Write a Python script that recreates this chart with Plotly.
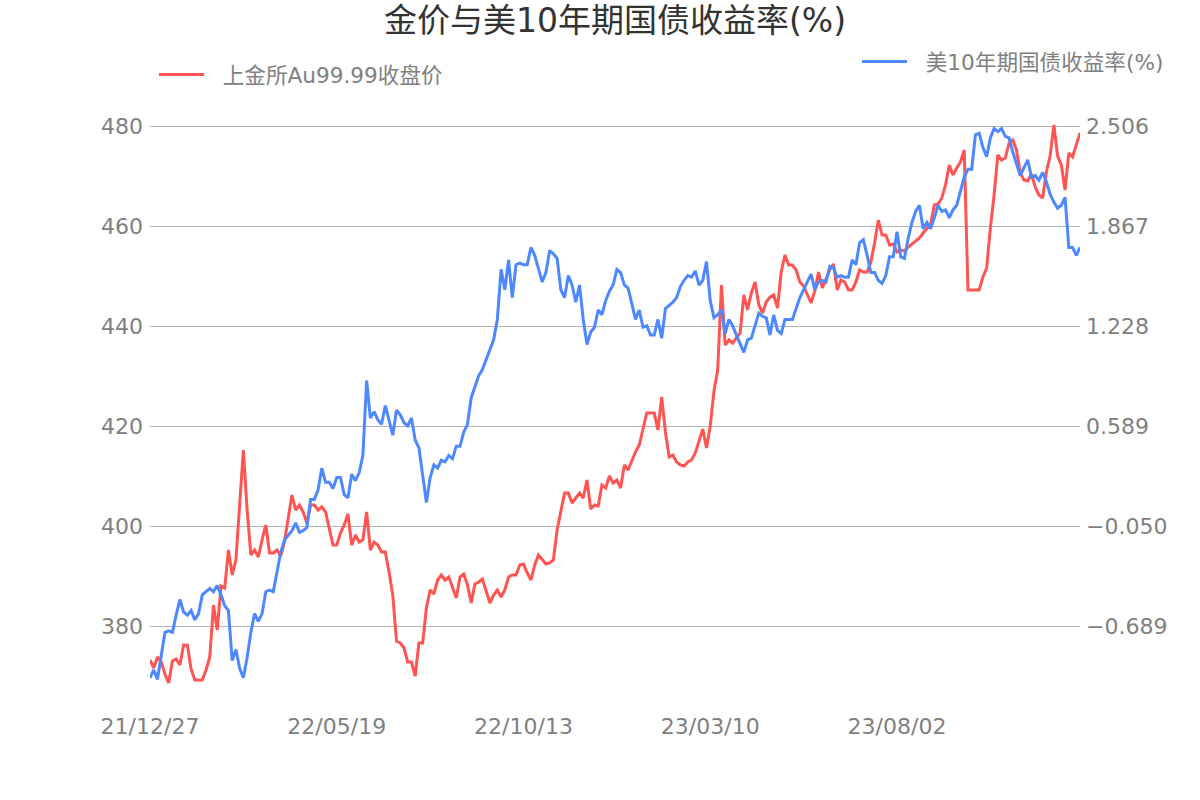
import plotly.graph_objects as go

# category index positions and x tick labels
x_tick_idx = [0, 50, 100, 150, 200]
x_tick_labels = ["21/12/27", "22/05/19", "22/10/13", "23/03/10", "23/08/02"]

gold = [
    373.2, 371.6, 373.8, 372.8, 370.4, 368.6, 373.0, 373.4, 372.2, 376.2,
    376.2, 371.4, 369.2, 369.2, 369.2, 371.2, 373.8, 384.2, 379.2, 388.0,
    387.6, 395.2, 390.2, 393.2, 404.4, 415.2, 403.2, 394.2, 395.2, 393.8,
    397.2, 400.2, 394.6, 394.6, 395.2, 394.0, 396.8, 401.2, 406.2, 403.2,
    404.2, 402.8, 400.6, 404.2, 404.2, 403.2, 403.8, 402.8, 399.2, 396.2,
    396.2, 398.6, 400.2, 402.4, 396.2, 398.2, 396.8, 397.2, 402.8, 395.2,
    396.8, 396.2, 394.8, 394.8, 390.8, 386.2, 377.0, 376.6, 375.6, 372.8,
    372.8, 370.0, 376.6, 376.6, 383.6, 387.2, 386.4, 389.2, 390.2, 389.2,
    389.8, 387.6, 385.6, 389.8, 390.4, 388.2, 384.6, 388.4, 388.8, 389.4,
    386.8, 384.6, 386.2, 387.2, 385.8, 387.2, 389.8, 390.2, 390.2, 392.2,
    392.4, 390.6, 389.2, 392.2, 394.2, 393.2, 392.4, 392.6, 393.2, 399.2,
    402.6, 406.6, 406.6, 404.6, 405.6, 406.6, 405.6, 409.2, 403.4, 404.2,
    404.0, 408.2, 407.6, 410.0, 408.6, 409.2, 407.6, 412.2, 411.2, 413.0,
    414.8, 416.2, 419.2, 422.6, 422.6, 422.6, 419.2, 425.8, 418.8, 413.8,
    414.2, 412.8, 412.2, 412.0, 412.8, 413.2, 414.6, 417.2, 419.4, 415.6,
    420.0, 427.0, 431.2, 448.2, 436.2, 437.2, 436.6, 437.6, 438.6, 446.2,
    443.2, 446.6, 448.8, 444.2, 442.6, 444.8, 445.8, 446.2, 443.6, 450.8,
    454.2, 452.2, 452.2, 451.2, 448.8, 448.0, 446.2, 444.6, 447.0, 450.8,
    447.6, 449.6, 451.2, 452.4, 447.2, 449.2, 448.8, 447.2, 447.2, 448.8,
    451.2, 450.8, 450.8, 452.8, 456.6, 461.2, 458.2, 458.2, 456.2, 456.4,
    454.8, 455.2, 455.0, 455.8, 456.4, 457.0, 457.6, 458.6, 459.4, 460.4,
    464.2, 464.4, 465.6, 468.2, 472.2, 470.2, 471.6, 472.8, 475.2, 447.2,
    447.2, 447.2, 447.2, 449.8, 451.6, 459.6, 466.2, 474.2, 473.2, 473.6,
    476.6, 477.2, 475.2, 470.6, 469.2, 469.0, 470.4, 467.8, 466.2, 465.6,
    470.8, 474.0, 480.2, 474.0, 472.2, 467.2, 474.6, 473.8, 476.4, 478.6,
]

us10y = [
    -1.02, -0.97, -1.03, -0.87, -0.73, -0.72, -0.73, -0.62, -0.52, -0.60,
    -0.62, -0.59, -0.65, -0.61, -0.49, -0.47, -0.45, -0.47, -0.43, -0.49,
    -0.56, -0.59, -0.91, -0.84, -0.96, -1.02, -0.89, -0.73, -0.61, -0.66,
    -0.61, -0.47, -0.46, -0.47, -0.35, -0.22, -0.14, -0.11, -0.08, -0.03,
    -0.09, -0.08, -0.06, 0.12, 0.12, 0.18, 0.32, 0.23, 0.23, 0.19,
    0.26, 0.26, 0.15, 0.13, 0.28, 0.24, 0.29, 0.40, 0.88, 0.64,
    0.68, 0.63, 0.60, 0.72, 0.63, 0.53, 0.69, 0.66, 0.61, 0.59,
    0.64, 0.50, 0.45, 0.28, 0.10, 0.26, 0.34, 0.32, 0.37, 0.36,
    0.40, 0.38, 0.46, 0.46, 0.55, 0.60, 0.77, 0.84, 0.91, 0.95,
    1.01, 1.07, 1.14, 1.27, 1.59, 1.46, 1.65, 1.41, 1.62, 1.63,
    1.62, 1.62, 1.73, 1.68, 1.60, 1.51, 1.57, 1.71, 1.69, 1.66,
    1.46, 1.41, 1.55, 1.49, 1.38, 1.49, 1.27, 1.11, 1.19, 1.22,
    1.33, 1.30, 1.39, 1.45, 1.49, 1.59, 1.57, 1.49, 1.47, 1.36,
    1.27, 1.33, 1.22, 1.23, 1.17, 1.17, 1.27, 1.15, 1.34, 1.36,
    1.38, 1.41, 1.48, 1.52, 1.55, 1.54, 1.58, 1.49, 1.52, 1.64,
    1.39, 1.28, 1.30, 1.33, 1.18, 1.27, 1.23, 1.17, 1.11, 1.06,
    1.14, 1.15, 1.23, 1.31, 1.29, 1.28, 1.17, 1.30, 1.20, 1.18,
    1.27, 1.27, 1.27, 1.34, 1.41, 1.46, 1.51, 1.56, 1.46, 1.51,
    1.52, 1.51, 1.61, 1.60, 1.54, 1.55, 1.54, 1.54, 1.65, 1.62,
    1.76, 1.78, 1.68, 1.57, 1.57, 1.52, 1.50, 1.55, 1.67, 1.67,
    1.83, 1.67, 1.66, 1.79, 1.89, 1.96, 2.00, 1.85, 1.89, 1.85,
    1.92, 2.00, 1.96, 1.97, 1.92, 1.97, 2.00, 2.10, 2.18, 2.23,
    2.23, 2.45, 2.46, 2.37, 2.31, 2.43, 2.49, 2.47, 2.49, 2.44,
    2.43, 2.34, 2.26, 2.19, 2.24, 2.29, 2.18, 2.19, 2.16, 2.21,
    2.15, 2.07, 2.02, 1.98, 2.00, 2.05, 1.73, 1.73, 1.68, 1.73,
]

left_ticks = [380, 400, 420, 440, 460, 480]
right_ticks = [-0.689, -0.050, 0.589, 1.228, 1.867, 2.506]
right_tick_text = ["\u22120.689", "\u22120.050", "0.589", "1.228", "1.867", "2.506"]

idx = list(range(len(gold)))

RED = "#ff5552"
BLUE = "#4e88ff"
GRAY = "#808080"
FONT = "DejaVu Sans, Noto Sans CJK SC, sans-serif"
GAP = "\u00a0\u00a0"  # visual gap between legend line and its text

fig = go.Figure()
fig.add_trace(go.Scatter(
    x=idx, y=gold, mode="lines", name=GAP + "上金所Au99.99收盘价",
    line=dict(color=RED, width=3), legend="legend", yaxis="y", showlegend=True,
))
fig.add_trace(go.Scatter(
    x=idx, y=us10y, mode="lines", name=GAP + "美10年期国债收益率(%)",
    line=dict(color=BLUE, width=3), legend="legend2", yaxis="y2", showlegend=True,
))

fig.update_layout(
    width=1200, height=800,
    showlegend=True,
    margin=dict(l=150, r=120, t=106, b=95),
    paper_bgcolor="white", plot_bgcolor="white",
    font=dict(family=FONT, size=21, color=GRAY),
    title=dict(text="金价与美10年期国债收益率(%)", x=615/1200, xref="container",
               xanchor="center", y=1 - 20/800, yref="container", yanchor="middle",
               font=dict(size=33, color="#333333", family=FONT)),
    xaxis=dict(range=[0, len(gold) - 1], tickvals=x_tick_idx, ticktext=x_tick_labels,
               showgrid=False, zeroline=False, showline=False, ticks="",
               automargin=False, ticklabelstandoff=6,
               tickfont=dict(size=22, color=GRAY)),
    yaxis=dict(range=[364.2, 484.0], tickvals=left_ticks, showgrid=True,
               gridcolor="#b4b4b4", gridwidth=1, zeroline=False, showline=False,
               automargin=False, ticks="", ticklabelstandoff=6,
               tickfont=dict(size=22, color=GRAY)),
    yaxis2=dict(range=[-1.194, 2.634], tickvals=right_ticks, ticktext=right_tick_text,
                overlaying="y", side="right", showgrid=False, zeroline=False,
                automargin=False, showline=False, ticks="", ticklabelstandoff=5,
                tickfont=dict(size=22, color=GRAY)),
    legend=dict(x=154/1200, y=1 - 75/800, xref="container", yref="container",
                xanchor="left", yanchor="middle", orientation="h", visible=True,
                itemwidth=45, bgcolor="rgba(0,0,0,0)",
                font=dict(size=21.6, color=GRAY, family=FONT)),
    legend2=dict(x=857/1200, y=1 - 62/800, xref="container", yref="container",
                 xanchor="left", yanchor="middle", orientation="h", visible=True,
                 itemwidth=45, bgcolor="rgba(0,0,0,0)",
                 font=dict(size=21.6, color=GRAY, family=FONT)),
)

fig.write_html("out.html")
